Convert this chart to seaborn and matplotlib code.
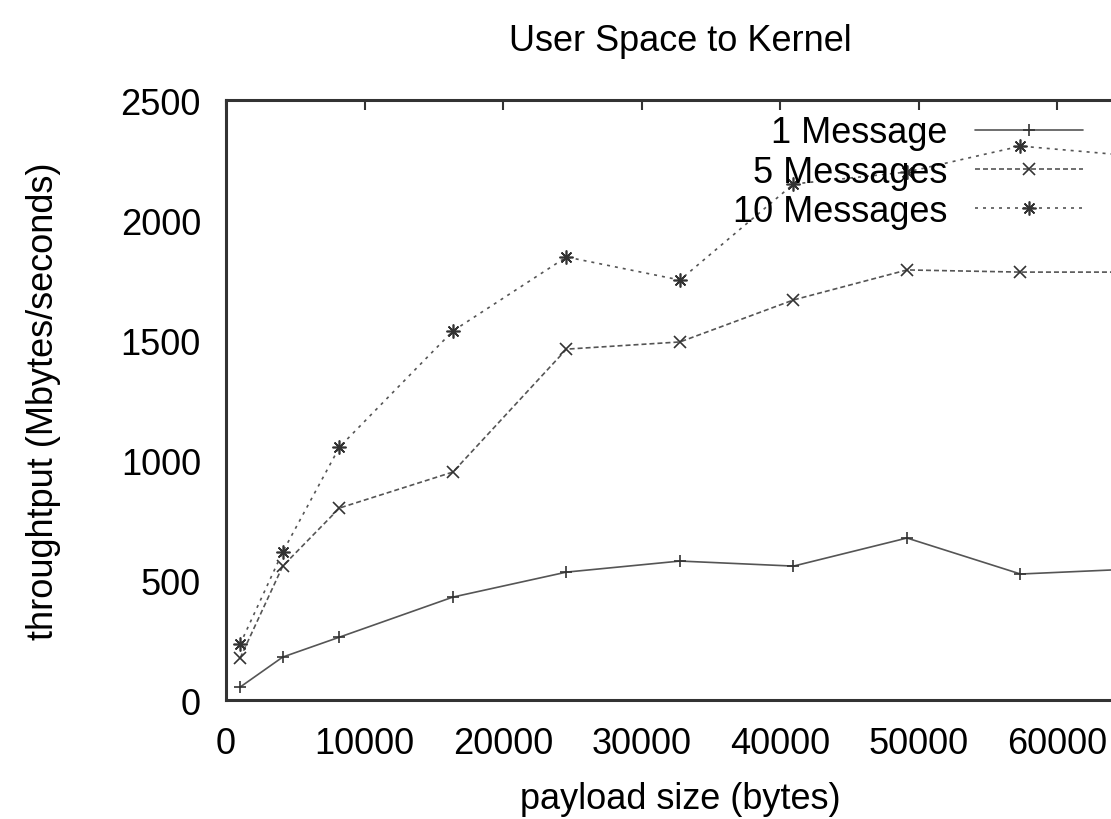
import pandas as pd
import seaborn as sns
import matplotlib
matplotlib.use("Agg")
import matplotlib.pyplot as plt

# payload sizes (bytes) and measured throughput (Mbytes/s)
payload = [1024, 4096, 8192, 16384, 24576, 32768, 40960, 49152, 57344, 65536]
one_msg = [54, 179, 262, 429, 533, 579, 558, 675, 525, 546]
five_msg = [175, 558, 800, 950, 1462, 1492, 1667, 1792, 1783, 1783]
ten_msg = [233, 617, 1054, 1538, 1846, 1750, 2150, 2200, 2308, 2267]

series_names = ["1 Message", "5 Messages", "10 Messages"]
x_ticks = [0, 10000, 20000, 30000, 40000, 50000, 60000]
y_ticks = [0, 500, 1000, 1500, 2000, 2500]


def main():
    df = pd.DataFrame({"payload": payload * 3,
                       "throughput": one_msg + five_msg + ten_msg,
                       "series": [n for n in series_names for _ in payload]})

    sns.set_theme(style="white")
    plt.rcParams["font.family"] = ["Liberation Sans", "DejaVu Sans"]
    plt.rcParams["font.size"] = 26
    plt.rcParams["text.color"] = "black"
    plt.rcParams["axes.labelcolor"] = "black"

    fig = plt.figure(figsize=(11.11, 8.2), dpi=100)
    ax = fig.add_axes([0.2034, 0.1451, 0.8173, 0.7317])

    styles = {
        "1 Message": dict(linestyle="-", marker="+", markersize=9),
        "5 Messages": dict(dashes=(3, 1.8), marker="x", markersize=8),
        "10 Messages": dict(dashes=(1.8, 3), marker=(8, 2, 0), markersize=10),
    }
    for name in series_names:
        sub = df[df["series"] == name]
        sns.lineplot(data=sub, x="payload", y="throughput", ax=ax, color="#555555",
                     linewidth=1.2, markeredgewidth=1.2, markeredgecolor="#333333",
                     label=name, **styles[name])

    ax.set_xlim(0, 65536)
    ax.set_ylim(0, 2500)
    ax.set_xticks(x_ticks)
    ax.set_yticks(y_ticks)
    ax.tick_params(axis="both", direction="in", length=7, width=1.5, colors="#333333",
                   labelcolor="black", labelsize=26, top=True, right=True)
    ax.tick_params(axis="x", pad=19)
    ax.tick_params(axis="y", pad=18)
    for s in ax.spines.values():
        s.set_linewidth(2.2)
        s.set_color("#333333")

    ax.set_xlabel("payload size (bytes)", fontsize=26, labelpad=14)
    ax.set_ylabel("throughtput (Mbytes/seconds)", fontsize=26, labelpad=43)
    ax.set_title("User Space to Kernel", fontsize=26, pad=36)

    ax.legend(loc="upper right", bbox_to_anchor=(0.975, 0.858), bbox_transform=fig.transFigure,
              frameon=False, markerfirst=False, fontsize=26, handlelength=3,
              handletextpad=0.75, labelspacing=0.12, borderpad=0, borderaxespad=0)

    fig.savefig("out.png", dpi=100)


if __name__ == "__main__":
    main()
